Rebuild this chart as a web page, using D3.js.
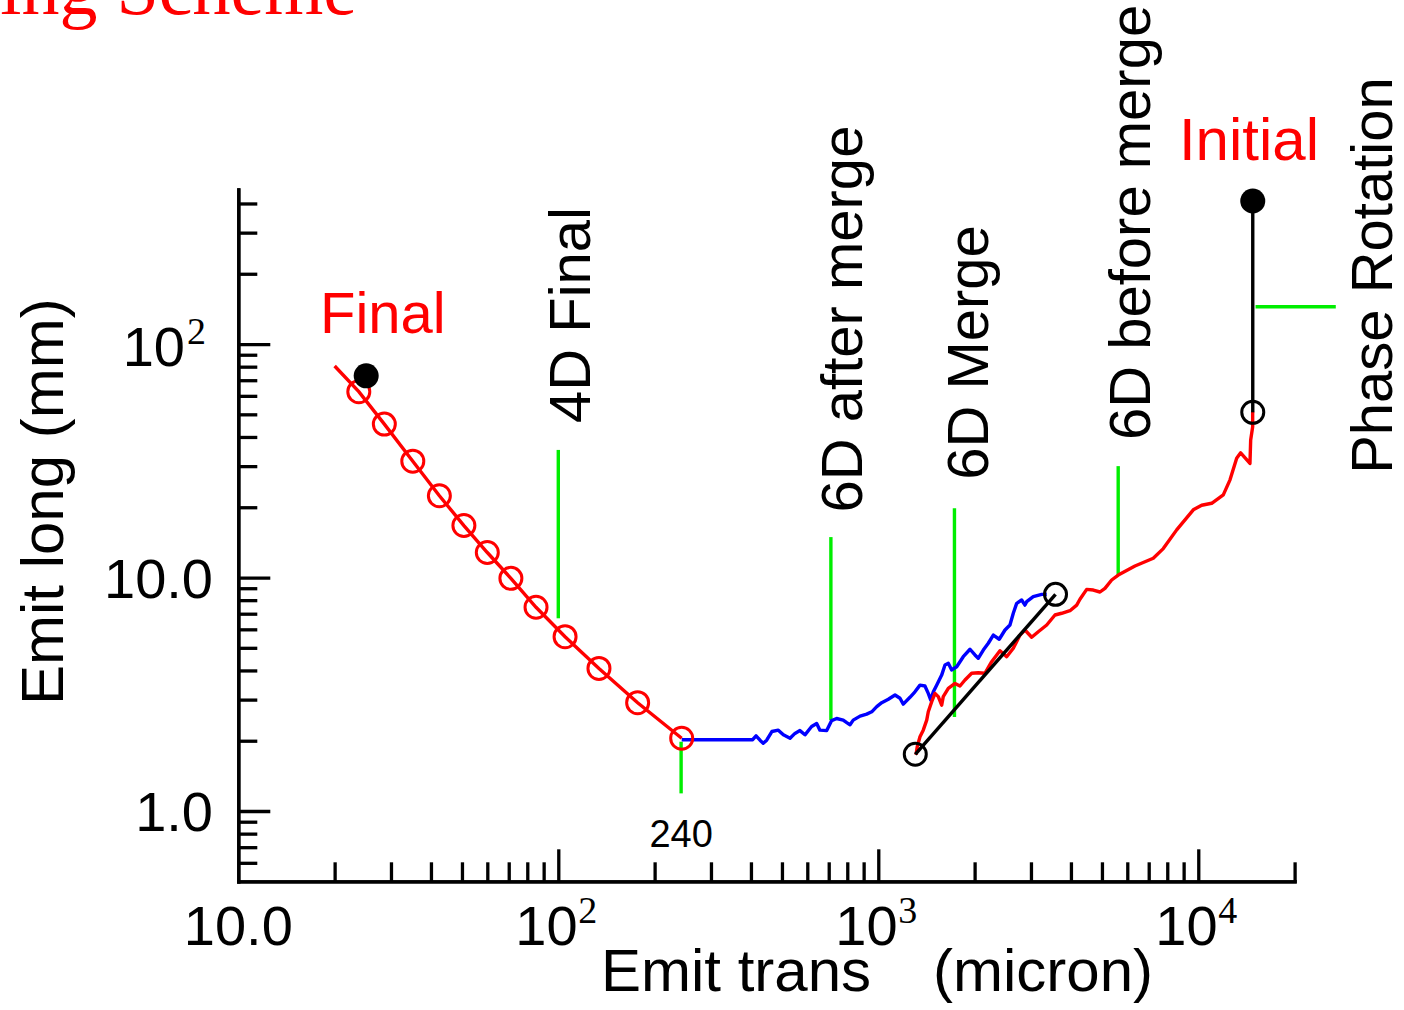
<!DOCTYPE html>
<html>
<head>
<meta charset="utf-8">
<script src="https://cdn.jsdelivr.net/npm/d3@7"></script>
<style>
  html, body { margin: 0; padding: 0; background: #fff; }
  svg { display: block; }
  text { font-family: "Liberation Sans", Arial, sans-serif; }
</style>
</head>
<body>
<svg id="chart" width="1404" height="1010"></svg>
<script>
// ---------------- DATA ----------------
const titleText = "Cooling Scheme";
const xLabelA = "Emit trans";
const xLabelB = "(micron)";
const yLabel = "Emit long (mm)";

// x ticks (micron) / y ticks (mm)
const xMajorTicks = [100, 1000, 10000];
const xMinorTicks = [20,30,40,50,60,70,80,90,200,300,400,500,600,700,800,900,
                     2000,3000,4000,5000,6000,7000,8000,9000,20000];
const xTickLabels = [{v:10, base:"10.0", sup:""}, {v:100, base:"10", sup:"2"},
                     {v:1000, base:"10", sup:"3"}, {v:10000, base:"10", sup:"4"}];
const yMajorTicks = [1, 10, 100];
const yMinorTicks = [0.6,0.7,0.8,0.9,2,3,4,5,6,7,8,9,20,30,40,50,60,70,80,90,200,300,400];
const yTickLabels = [{v:1, base:"1.0", sup:""}, {v:10, base:"10.0", sup:""}, {v:100, base:"10", sup:"2"}];

// Final cooling (red line with open circles): first point is line start
const finalX = [20, 23.8, 28.6, 35.1, 42.5, 50.7, 60, 71.1, 85.2, 105, 134, 177, 243];
const finalY = [80.5, 62.5, 45.4, 31.5, 22.4, 16.7, 12.8, 9.92, 7.46, 5.58, 4.08, 2.91, 2.05];
const finalDotX = [25.1];
const finalDotY = [73.1];

// 6D after merge (blue)
const blueX = [243, 405, 415, 427, 437, 448, 465, 487, 505, 530, 549, 569, 590, 619, 642, 657, 690,
  715, 741, 777, 797, 816, 835, 877, 920, 954, 989, 1025, 1075, 1128, 1169, 1197, 1256, 1302,
  1350, 1399, 1433, 1458, 1486, 1522, 1578, 1616, 1655, 1696, 1758, 1843, 1935, 2005, 2053,
  2129, 2207, 2288, 2388, 2489, 2579, 2642, 2707, 2806, 2873, 2909, 3050, 3241, 3360];
const blueY = [2.02, 2.02, 2.10, 2.01, 1.95, 2.01, 2.19, 2.22, 2.12, 2.05, 2.15, 2.21, 2.12, 2.30, 2.37, 2.22, 2.21,
  2.44, 2.49, 2.45, 2.39, 2.34, 2.45, 2.55, 2.60, 2.66, 2.80, 2.91, 3.01, 3.14, 3.04, 2.87, 3.07, 3.24,
  3.46, 3.43, 3.19, 2.99, 3.24, 3.46, 3.82, 4.22, 4.29, 4.02, 4.15, 4.58, 4.93, 4.66, 4.51,
  4.89, 5.23, 5.67, 5.44, 5.96, 6.26, 7.03, 7.75, 8.01, 7.62, 7.88, 8.28, 8.47, 8.47];

// Initial -> 6D before merge (red)
const redX = [1312, 1324, 1350, 1382, 1417, 1433, 1469, 1504, 1540, 1578, 1596, 1655, 1737, 1800, 1866,
  1958, 2053, 2154, 2261, 2400, 2519, 2642, 2773, 2873, 3016, 3162, 3360, 3566, 3742, 3973, 4169,
  4268, 4480, 4698, 4930, 5110, 5362, 5623, 6341, 7234, 7774, 8561, 9647, 10247, 11013, 11972,
  12566, 13183, 13567, 14506, 14580, 14791, 14791];
const redY = [1.74, 1.89, 2.08, 2.22, 2.45, 2.66, 2.94, 3.19, 3.09, 2.84, 3.09, 3.35, 3.52, 3.43, 3.64,
  3.89, 3.91, 3.89, 4.36, 4.86, 4.58, 4.98, 5.67, 5.96, 5.55, 5.86, 6.26, 6.91, 7.03, 7.21, 7.62,
  8.07, 8.90, 8.84, 8.67, 8.99, 9.76, 10.25, 11.2, 12.1, 13.3, 16.0, 19.5, 20.4, 20.8, 22.6,
  26.2, 32.4, 34.2, 30.8, 38.8, 44.2, 51.3];

// Merge (black line with open circles)
const mergeX = [1305, 3580];
const mergeY = [1.75, 8.47];

// Phase rotation (black vertical: filled = before, open = after)
const phaseX = [14800, 14800];
const phaseY = [410, 51];

// Green stage markers
const markX1 = [100, 242, 711, 1730, 5620, 15100];
const markX2 = [100, 242, 711, 1730, 5620, 26900];
const markY1 = [6.69, 1.19, 2.45, 2.53, 10.25, 144.5];
const markY2 = [35.2, 1.98, 14.9, 19.8, 30.0, 144.5];

// Vertical stage labels (anchored at bottom-start, in data coords)
const stageNames = ["4D Final", "6D after merge", "6D Merge", "6D before merge", "Phase Rotation"];
const stageX = [125.6, 889, 2202, 7063, 40400];
const stageY = [45.9, 19.0, 26.2, 38.8, 27.8];

// Horizontal red labels
const endNames = ["Final", "Initial"];
const endX = [18.0, 8700];
const endY = [111.5, 614];

const minLabel = "240";
const minLabelX = 242;
const minLabelY = 0.70;

// ---------------- DRAW ----------------
const svg = d3.select("#chart");
const x = d3.scaleLog().domain([10, 20000]).range([238.3, 1294.6]);
const y = d3.scaleLog().domain([0.5, 460]).range([881.3, 189.3]);

const RED = "#ff0000", BLUE = "#0000ff", GREEN = "#00ee00", BLACK = "#000";
const LW = 3.4;
const AW = 3.3;

// Title (partially cut by the page edge)
svg.append("text").attr("x", 357).attr("y", 14)
  .attr("text-anchor", "end")
  .style("font-family", "'Liberation Serif', 'DejaVu Serif', serif")
  .style("font-size", "76px").attr("fill", RED).text(titleText);

// Axes
const yAxisG = svg.append("g").attr("transform", `translate(${x(10)},0)`);
yAxisG.call(d3.axisRight(y).tickValues(yMajorTicks).tickSize(32).tickSizeOuter(0).tickFormat(""));
const yMinorG = svg.append("g").attr("transform", `translate(${x(10)},0)`);
yMinorG.call(d3.axisRight(y).tickValues(yMinorTicks).tickSize(19).tickSizeOuter(0).tickFormat(""));
const xAxisG = svg.append("g").attr("transform", `translate(0,${y(0.5)})`);
xAxisG.call(d3.axisTop(x).tickValues(xMajorTicks).tickSize(32).tickSizeOuter(0).tickFormat(""));
const xMinorG = svg.append("g").attr("transform", `translate(0,${y(0.5)})`);
xMinorG.call(d3.axisTop(x).tickValues(xMinorTicks).tickSize(19).tickSizeOuter(0).tickFormat(""));
svg.selectAll(".domain").attr("stroke", BLACK).attr("stroke-width", AW).attr("stroke-linecap", "square");
svg.selectAll(".tick line").attr("stroke", BLACK).attr("stroke-width", AW);

// Tick labels
const serif = "'Liberation Serif', 'DejaVu Serif', serif";
xTickLabels.forEach(t => {
  const cx = x(t.v);
  const by = y(0.5) + 64;
  if (!t.sup) {
    svg.append("text").attr("x", cx).attr("y", by).attr("text-anchor", "middle")
      .style("font-size", "56px").text(t.base);
  } else {
    svg.append("text").attr("x", cx - 43).attr("y", by).attr("text-anchor", "start")
      .style("font-size", "56px").text(t.base);
    svg.append("text").attr("x", cx + 20).attr("y", by - 22).attr("text-anchor", "start")
      .style("font-family", serif).style("font-size", "38px").text(t.sup);
  }
});
yTickLabels.forEach(t => {
  const cy = y(t.v);
  if (!t.sup) {
    svg.append("text").attr("x", 213).attr("y", cy + 20).attr("text-anchor", "end")
      .style("font-size", "56px").text(t.base);
  } else {
    svg.append("text").attr("x", 185).attr("y", cy + 22).attr("text-anchor", "end")
      .style("font-size", "56px").text(t.base);
    svg.append("text").attr("x", 187).attr("y", cy).attr("text-anchor", "start")
      .style("font-family", serif).style("font-size", "38px").text(t.sup);
  }
});

// Axis titles
svg.append("text").attr("x", 601).attr("y", 991).style("font-size", "60px").text(xLabelA);
svg.append("text").attr("x", 933).attr("y", 991).style("font-size", "60px").text(xLabelB);
svg.append("text").attr("transform", `translate(63,705) rotate(-90)`)
  .style("font-size", "60px").text(yLabel);

// Green markers
markX1.forEach((_, i) => {
  svg.append("line")
    .attr("x1", x(markX1[i])).attr("x2", x(markX2[i]))
    .attr("y1", y(markY1[i])).attr("y2", y(markY2[i]))
    .attr("stroke", GREEN).attr("stroke-width", LW);
});

const line = d3.line().x(d => x(d[0])).y(d => y(d[1]));

// Blue: 6D after merge
svg.append("path").datum(blueX.map((v, i) => [v, blueY[i]]))
  .attr("d", line).attr("fill", "none").attr("stroke", BLUE)
  .attr("stroke-width", LW).attr("stroke-linejoin", "round");

// Red: initial -> before merge
svg.append("path").datum(redX.map((v, i) => [v, redY[i]]))
  .attr("d", line).attr("fill", "none").attr("stroke", RED)
  .attr("stroke-width", LW).attr("stroke-linejoin", "round");

// Merge (black line + open circles)
svg.append("path").datum(mergeX.map((v, i) => [v, mergeY[i]]))
  .attr("d", line).attr("fill", "none").attr("stroke", BLACK).attr("stroke-width", LW);
svg.selectAll(".mergeC").data(mergeX.map((v, i) => [v, mergeY[i]])).enter()
  .append("circle").attr("cx", d => x(d[0])).attr("cy", d => y(d[1])).attr("r", 11)
  .attr("fill", "none").attr("stroke", BLACK).attr("stroke-width", 3);

// Phase rotation
svg.append("path").datum(phaseX.map((v, i) => [v, phaseY[i]]))
  .attr("d", line).attr("fill", "none").attr("stroke", BLACK).attr("stroke-width", LW);
svg.append("circle").attr("cx", x(phaseX[0])).attr("cy", y(phaseY[0])).attr("r", 12.5).attr("fill", BLACK);
svg.append("circle").attr("cx", x(phaseX[1])).attr("cy", y(phaseY[1])).attr("r", 11)
  .attr("fill", "none").attr("stroke", BLACK).attr("stroke-width", 3);

// Final cooling
svg.append("path").datum(finalX.map((v, i) => [v, finalY[i]]))
  .attr("d", line).attr("fill", "none").attr("stroke", RED).attr("stroke-width", LW);
svg.selectAll(".finC").data(finalX.slice(1).map((v, i) => [v, finalY[i + 1]])).enter()
  .append("circle").attr("cx", d => x(d[0])).attr("cy", d => y(d[1])).attr("r", 11)
  .attr("fill", "none").attr("stroke", RED).attr("stroke-width", 3);
svg.append("circle").attr("cx", x(finalDotX[0])).attr("cy", y(finalDotY[0])).attr("r", 12.5).attr("fill", BLACK);

// Stage labels (vertical)
stageNames.forEach((s, i) => {
  svg.append("text").attr("transform", `translate(${x(stageX[i])},${y(stageY[i])}) rotate(-90)`)
    .style("font-size", "58px").attr("fill", BLACK).text(s);
});
endNames.forEach((s, i) => {
  svg.append("text").attr("x", x(endX[i])).attr("y", y(endY[i]))
    .style("font-size", i === 1 ? "60px" : "58px").attr("fill", RED).text(s);
});
svg.append("text").attr("x", x(minLabelX)).attr("y", y(minLabelY)).attr("text-anchor", "middle")
  .style("font-size", "38px").text(minLabel);
</script>
</body>
</html>
